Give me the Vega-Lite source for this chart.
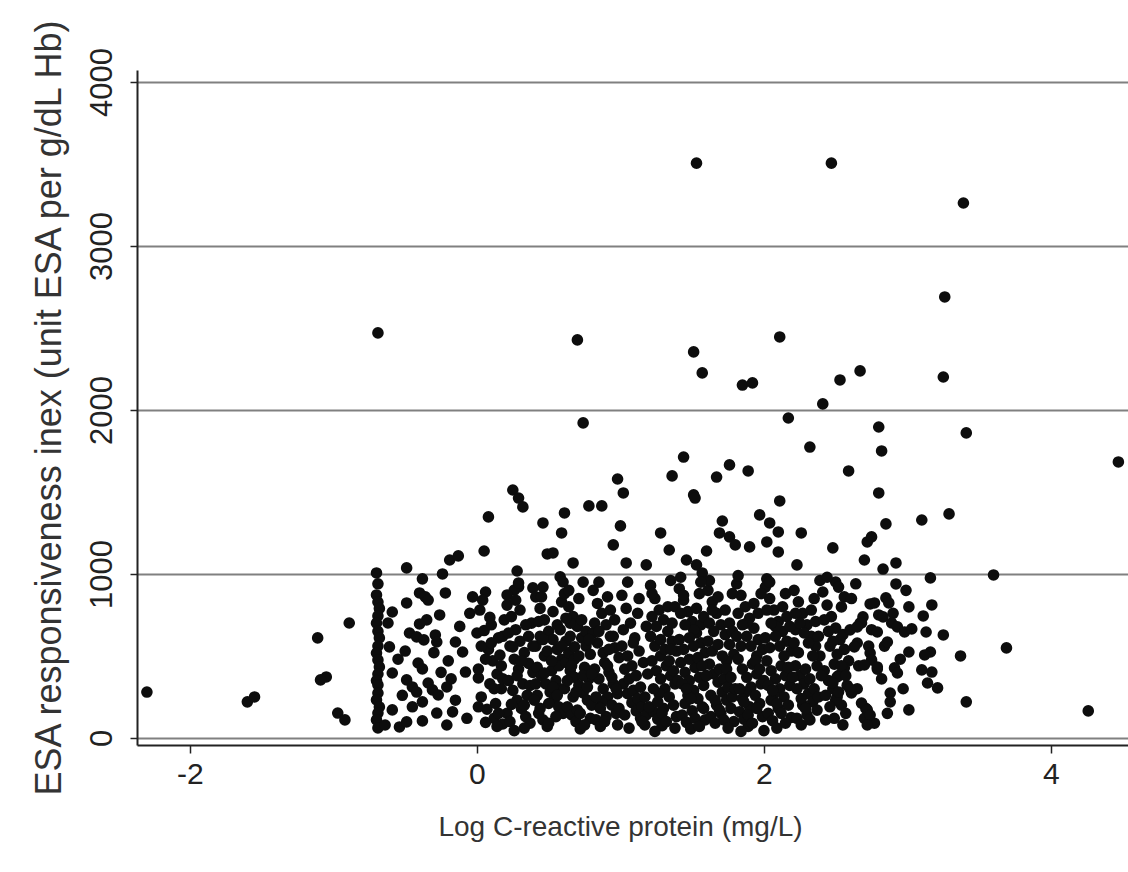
{
  "$schema": "https://vega.github.io/schema/vega-lite/v6.json",
  "autosize": {"type": "none"},
  "width": 991,
  "height": 675,
  "padding": {"left": 137, "top": 70, "right": 0, "bottom": 127},
  "background": "white",
  "config": {"view": {"stroke": null}},
  "data": {"values": [
    {"logCRP":1.53,"ERI":3505},{"logCRP":2.47,"ERI":3505},{"logCRP":3.39,"ERI":3262},{"logCRP":3.26,"ERI":2689},{"logCRP":-0.69,"ERI":2470},{"logCRP":0.70,"ERI":2427},{"logCRP":2.11,"ERI":2445},{"logCRP":1.51,"ERI":2354},{"logCRP":1.57,"ERI":2226},{"logCRP":2.67,"ERI":2238},{"logCRP":2.53,"ERI":2183},{"logCRP":3.25,"ERI":2201},{"logCRP":1.85,"ERI":2152},{"logCRP":1.92,"ERI":2165},{"logCRP":2.41,"ERI":2037},{"logCRP":2.17,"ERI":1951},{"logCRP":0.74,"ERI":1921},{"logCRP":2.80,"ERI":1896},{"logCRP":3.41,"ERI":1860},{"logCRP":2.32,"ERI":1774},{"logCRP":2.82,"ERI":1750},{"logCRP":4.47,"ERI":1683},{"logCRP":1.44,"ERI":1713},{"logCRP":1.76,"ERI":1665},{"logCRP":1.89,"ERI":1628},{"logCRP":2.59,"ERI":1628},{"logCRP":1.36,"ERI":1598},{"logCRP":1.67,"ERI":1591},{"logCRP":0.98,"ERI":1579},{"logCRP":1.02,"ERI":1494},{"logCRP":1.51,"ERI":1482},{"logCRP":1.52,"ERI":1463},{"logCRP":2.11,"ERI":1445},{"logCRP":2.80,"ERI":1494},{"logCRP":0.78,"ERI":1415},{"logCRP":0.87,"ERI":1415},{"logCRP":0.25,"ERI":1512},{"logCRP":0.29,"ERI":1463},{"logCRP":0.32,"ERI":1409},{"logCRP":0.61,"ERI":1372},{"logCRP":0.08,"ERI":1348},{"logCRP":1.97,"ERI":1360},{"logCRP":2.04,"ERI":1311},{"logCRP":1.71,"ERI":1323},{"logCRP":3.29,"ERI":1366},{"logCRP":3.10,"ERI":1329},{"logCRP":2.85,"ERI":1305},{"logCRP":0.46,"ERI":1311},{"logCRP":1.00,"ERI":1293},{"logCRP":2.10,"ERI":1256},{"logCRP":0.59,"ERI":1250},{"logCRP":1.28,"ERI":1250},{"logCRP":1.69,"ERI":1250},{"logCRP":1.76,"ERI":1226},{"logCRP":1.80,"ERI":1177},{"logCRP":2.02,"ERI":1195},{"logCRP":1.90,"ERI":1165},{"logCRP":0.95,"ERI":1177},{"logCRP":1.34,"ERI":1146},{"logCRP":1.60,"ERI":1140},{"logCRP":2.10,"ERI":1134},{"logCRP":0.05,"ERI":1140},{"logCRP":0.49,"ERI":1122},{"logCRP":0.53,"ERI":1128},{"logCRP":-0.19,"ERI":1085},{"logCRP":-0.13,"ERI":1110},{"logCRP":0.67,"ERI":1067},{"logCRP":1.04,"ERI":1067},{"logCRP":1.18,"ERI":1055},{"logCRP":1.46,"ERI":1085},{"logCRP":1.53,"ERI":1055},{"logCRP":1.57,"ERI":1006},{"logCRP":2.23,"ERI":1055},{"logCRP":2.26,"ERI":1250},{"logCRP":2.48,"ERI":1159},{"logCRP":2.72,"ERI":1195},{"logCRP":2.75,"ERI":1226},{"logCRP":2.70,"ERI":1085},{"logCRP":2.92,"ERI":1067},{"logCRP":2.83,"ERI":1030},{"logCRP":3.60,"ERI":994},{"logCRP":3.16,"ERI":976},{"logCRP":2.50,"ERI":951},{"logCRP":2.92,"ERI":939},{"logCRP":-0.70,"ERI":1006},{"logCRP":-0.49,"ERI":1037},{"logCRP":-0.24,"ERI":1000},{"logCRP":-0.38,"ERI":970},{"logCRP":0.28,"ERI":1018},{"logCRP":0.58,"ERI":982},{"logCRP":0.60,"ERI":951},{"logCRP":0.29,"ERI":921},{"logCRP":0.26,"ERI":902},
    {"logCRP":3.69,"ERI":549},{"logCRP":3.37,"ERI":500},{"logCRP":3.41,"ERI":220},{"logCRP":3.01,"ERI":171},{"logCRP":4.26,"ERI":165},{"logCRP":3.25,"ERI":628},{"logCRP":3.13,"ERI":646},{"logCRP":3.17,"ERI":811},{"logCRP":3.11,"ERI":744},{"logCRP":3.01,"ERI":799},{"logCRP":3.16,"ERI":524},{"logCRP":3.12,"ERI":506},{"logCRP":3.10,"ERI":415},{"logCRP":3.17,"ERI":402},{"logCRP":3.14,"ERI":335},{"logCRP":3.21,"ERI":305},{"logCRP":3.01,"ERI":524},
    {"logCRP":-2.30,"ERI":280},{"logCRP":-1.60,"ERI":220},{"logCRP":-1.55,"ERI":250},{"logCRP":-1.11,"ERI":610},{"logCRP":-0.89,"ERI":701},{"logCRP":-1.05,"ERI":372},{"logCRP":-1.09,"ERI":354},{"logCRP":-0.97,"ERI":152},{"logCRP":-0.92,"ERI":110},
    {"logCRP":-0.69,"ERI":940},{"logCRP":-0.70,"ERI":872},{"logCRP":-0.69,"ERI":829},{"logCRP":-0.68,"ERI":790},{"logCRP":-0.69,"ERI":744},{"logCRP":-0.70,"ERI":700},{"logCRP":-0.69,"ERI":650},{"logCRP":-0.68,"ERI":610},{"logCRP":-0.69,"ERI":560},{"logCRP":-0.70,"ERI":518},{"logCRP":-0.69,"ERI":476},{"logCRP":-0.68,"ERI":433},{"logCRP":-0.69,"ERI":390},{"logCRP":-0.70,"ERI":350},{"logCRP":-0.69,"ERI":323},{"logCRP":-0.69,"ERI":274},{"logCRP":-0.70,"ERI":232},{"logCRP":-0.68,"ERI":189},{"logCRP":-0.69,"ERI":152},{"logCRP":-0.70,"ERI":110},{"logCRP":-0.69,"ERI":61},
    {"logCRP":-0.59,"ERI":768},{"logCRP":-0.62,"ERI":701},{"logCRP":-0.26,"ERI":750},{"logCRP":-0.35,"ERI":720},{"logCRP":-0.40,"ERI":695},{"logCRP":-0.47,"ERI":640},{"logCRP":-0.42,"ERI":616},{"logCRP":-0.37,"ERI":598},{"logCRP":-0.29,"ERI":628},{"logCRP":-0.28,"ERI":585},{"logCRP":-0.15,"ERI":585},{"logCRP":-0.10,"ERI":524},{"logCRP":0.00,"ERI":640},{"logCRP":-0.61,"ERI":555},{"logCRP":-0.41,"ERI":457},{"logCRP":-0.38,"ERI":421},{"logCRP":-0.59,"ERI":396},{"logCRP":-0.49,"ERI":354},{"logCRP":-0.45,"ERI":311},{"logCRP":-0.42,"ERI":280},{"logCRP":-0.34,"ERI":335},{"logCRP":-0.31,"ERI":293},{"logCRP":-0.27,"ERI":262},{"logCRP":-0.21,"ERI":311},{"logCRP":-0.08,"ERI":402},{"logCRP":0.01,"ERI":366},{"logCRP":-0.38,"ERI":220},{"logCRP":-0.59,"ERI":171},{"logCRP":-0.28,"ERI":152},{"logCRP":-0.21,"ERI":79},{"logCRP":-0.64,"ERI":79},{"logCRP":-0.54,"ERI":67},{"logCRP":-0.49,"ERI":98},{"logCRP":-0.38,"ERI":104},{"logCRP":-0.17,"ERI":159},{"logCRP":-0.40,"ERI":884},{"logCRP":-0.36,"ERI":860},{"logCRP":-0.34,"ERI":841},{"logCRP":-0.22,"ERI":884},{"logCRP":-0.49,"ERI":823},{"logCRP":0.06,"ERI":890},{"logCRP":-0.03,"ERI":860},{"logCRP":0.21,"ERI":872},{"logCRP":0.39,"ERI":915},{"logCRP":0.29,"ERI":945},
    {"logCRP":-0.55,"ERI":480},{"logCRP":-0.50,"ERI":530},{"logCRP":-0.20,"ERI":470},{"logCRP":-0.12,"ERI":680},{"logCRP":-0.05,"ERI":760},{"logCRP":-0.25,"ERI":400},{"logCRP":-0.15,"ERI":230},{"logCRP":-0.07,"ERI":120},{"logCRP":-0.45,"ERI":190},{"logCRP":-0.30,"ERI":520},{"logCRP":-0.52,"ERI":260},{"logCRP":-0.18,"ERI":360},
    {"logCRP":0.02,"ERI":780},{"logCRP":0.05,"ERI":655},{"logCRP":0.08,"ERI":540},{"logCRP":0.11,"ERI":470},{"logCRP":0.14,"ERI":390},{"logCRP":0.17,"ERI":300},{"logCRP":0.03,"ERI":250},{"logCRP":0.07,"ERI":175},{"logCRP":0.12,"ERI":120},{"logCRP":0.18,"ERI":85},{"logCRP":0.01,"ERI":420},{"logCRP":0.09,"ERI":330},{"logCRP":0.15,"ERI":610},{"logCRP":0.19,"ERI":720},{"logCRP":0.04,"ERI":840},{"logCRP":0.13,"ERI":210},{"logCRP":0.16,"ERI":505},{"logCRP":0.06,"ERI":95},{"logCRP":0.10,"ERI":690},{"logCRP":0.18,"ERI":360},
    {"logCRP":0.21,"ERI":810},{"logCRP":0.24,"ERI":740},{"logCRP":0.27,"ERI":660},{"logCRP":0.30,"ERI":590},{"logCRP":0.33,"ERI":520},{"logCRP":0.36,"ERI":455},{"logCRP":0.39,"ERI":400},{"logCRP":0.22,"ERI":350},{"logCRP":0.25,"ERI":290},{"logCRP":0.28,"ERI":230},{"logCRP":0.31,"ERI":180},{"logCRP":0.34,"ERI":130},{"logCRP":0.37,"ERI":90},{"logCRP":0.23,"ERI":560},{"logCRP":0.26,"ERI":480},{"logCRP":0.29,"ERI":420},{"logCRP":0.32,"ERI":330},{"logCRP":0.35,"ERI":260},{"logCRP":0.38,"ERI":700},{"logCRP":0.21,"ERI":150},{"logCRP":0.30,"ERI":780},{"logCRP":0.36,"ERI":620},{"logCRP":0.24,"ERI":205},{"logCRP":0.33,"ERI":60},
    {"logCRP":0.41,"ERI":860},{"logCRP":0.44,"ERI":790},{"logCRP":0.47,"ERI":720},{"logCRP":0.50,"ERI":650},{"logCRP":0.53,"ERI":600},{"logCRP":0.56,"ERI":540},{"logCRP":0.59,"ERI":480},{"logCRP":0.42,"ERI":430},{"logCRP":0.45,"ERI":380},{"logCRP":0.48,"ERI":330},{"logCRP":0.51,"ERI":280},{"logCRP":0.54,"ERI":240},{"logCRP":0.57,"ERI":190},{"logCRP":0.43,"ERI":150},{"logCRP":0.46,"ERI":110},{"logCRP":0.49,"ERI":70},{"logCRP":0.52,"ERI":410},{"logCRP":0.55,"ERI":350},{"logCRP":0.58,"ERI":300},{"logCRP":0.41,"ERI":560},{"logCRP":0.44,"ERI":620},{"logCRP":0.47,"ERI":500},{"logCRP":0.50,"ERI":210},{"logCRP":0.53,"ERI":770},{"logCRP":0.56,"ERI":690},{"logCRP":0.59,"ERI":830},{"logCRP":0.42,"ERI":260},{"logCRP":0.57,"ERI":440},{"logCRP":0.60,"ERI":150},{"logCRP":0.46,"ERI":920},
    {"logCRP":0.61,"ERI":880},{"logCRP":0.64,"ERI":800},{"logCRP":0.67,"ERI":740},{"logCRP":0.70,"ERI":680},{"logCRP":0.73,"ERI":610},{"logCRP":0.76,"ERI":560},{"logCRP":0.79,"ERI":510},{"logCRP":0.62,"ERI":460},{"logCRP":0.65,"ERI":410},{"logCRP":0.68,"ERI":370},{"logCRP":0.71,"ERI":320},{"logCRP":0.74,"ERI":275},{"logCRP":0.77,"ERI":230},{"logCRP":0.63,"ERI":190},{"logCRP":0.66,"ERI":140},{"logCRP":0.69,"ERI":100},{"logCRP":0.72,"ERI":55},{"logCRP":0.75,"ERI":430},{"logCRP":0.78,"ERI":360},{"logCRP":0.61,"ERI":300},{"logCRP":0.64,"ERI":520},{"logCRP":0.67,"ERI":250},{"logCRP":0.70,"ERI":170},{"logCRP":0.73,"ERI":720},{"logCRP":0.76,"ERI":650},{"logCRP":0.79,"ERI":120},{"logCRP":0.62,"ERI":590},{"logCRP":0.65,"ERI":700},{"logCRP":0.68,"ERI":480},{"logCRP":0.71,"ERI":850},{"logCRP":0.74,"ERI":950},
    {"logCRP":0.81,"ERI":900},{"logCRP":0.84,"ERI":820},{"logCRP":0.87,"ERI":760},{"logCRP":0.90,"ERI":690},{"logCRP":0.93,"ERI":620},{"logCRP":0.96,"ERI":550},{"logCRP":0.99,"ERI":490},{"logCRP":0.82,"ERI":420},{"logCRP":0.85,"ERI":360},{"logCRP":0.88,"ERI":300},{"logCRP":0.91,"ERI":250},{"logCRP":0.94,"ERI":200},{"logCRP":0.97,"ERI":150},{"logCRP":0.83,"ERI":110},{"logCRP":0.86,"ERI":70},{"logCRP":0.89,"ERI":460},{"logCRP":0.92,"ERI":400},{"logCRP":0.95,"ERI":330},{"logCRP":0.98,"ERI":270},{"logCRP":0.81,"ERI":640},{"logCRP":0.84,"ERI":580},{"logCRP":0.87,"ERI":220},{"logCRP":0.90,"ERI":130},{"logCRP":0.93,"ERI":780},{"logCRP":0.96,"ERI":720},{"logCRP":0.99,"ERI":180},{"logCRP":0.85,"ERI":950},{"logCRP":0.91,"ERI":860},
    {"logCRP":1.01,"ERI":870},{"logCRP":1.04,"ERI":790},{"logCRP":1.07,"ERI":700},{"logCRP":1.10,"ERI":610},{"logCRP":1.13,"ERI":530},{"logCRP":1.16,"ERI":460},{"logCRP":1.19,"ERI":390},{"logCRP":1.02,"ERI":330},{"logCRP":1.05,"ERI":270},{"logCRP":1.08,"ERI":215},{"logCRP":1.11,"ERI":165},{"logCRP":1.14,"ERI":120},{"logCRP":1.17,"ERI":80},{"logCRP":1.03,"ERI":420},{"logCRP":1.06,"ERI":360},{"logCRP":1.09,"ERI":290},{"logCRP":1.12,"ERI":240},{"logCRP":1.15,"ERI":190},{"logCRP":1.18,"ERI":140},{"logCRP":1.01,"ERI":560},{"logCRP":1.12,"ERI":760},{"logCRP":1.18,"ERI":680},{"logCRP":1.05,"ERI":950},{"logCRP":1.15,"ERI":100},
    {"logCRP":1.21,"ERI":930},{"logCRP":1.24,"ERI":850},{"logCRP":1.27,"ERI":780},{"logCRP":1.30,"ERI":720},{"logCRP":1.33,"ERI":650},{"logCRP":1.36,"ERI":590},{"logCRP":1.39,"ERI":530},{"logCRP":1.22,"ERI":470},{"logCRP":1.25,"ERI":410},{"logCRP":1.28,"ERI":360},{"logCRP":1.31,"ERI":300},{"logCRP":1.34,"ERI":250},{"logCRP":1.37,"ERI":200},{"logCRP":1.23,"ERI":160},{"logCRP":1.26,"ERI":115},{"logCRP":1.29,"ERI":75},{"logCRP":1.32,"ERI":440},{"logCRP":1.35,"ERI":380},{"logCRP":1.38,"ERI":330},{"logCRP":1.21,"ERI":620},{"logCRP":1.24,"ERI":560},{"logCRP":1.27,"ERI":270},{"logCRP":1.30,"ERI":180},{"logCRP":1.33,"ERI":800},{"logCRP":1.36,"ERI":700},{"logCRP":1.39,"ERI":130},{"logCRP":1.22,"ERI":880},{"logCRP":1.35,"ERI":960},{"logCRP":1.28,"ERI":500},{"logCRP":1.38,"ERI":60},
    {"logCRP":1.41,"ERI":910},{"logCRP":1.44,"ERI":840},{"logCRP":1.47,"ERI":770},{"logCRP":1.50,"ERI":710},{"logCRP":1.53,"ERI":640},{"logCRP":1.56,"ERI":580},{"logCRP":1.59,"ERI":520},{"logCRP":1.42,"ERI":460},{"logCRP":1.45,"ERI":400},{"logCRP":1.48,"ERI":350},{"logCRP":1.51,"ERI":290},{"logCRP":1.54,"ERI":240},{"logCRP":1.57,"ERI":190},{"logCRP":1.43,"ERI":140},{"logCRP":1.46,"ERI":95},{"logCRP":1.49,"ERI":55},{"logCRP":1.52,"ERI":430},{"logCRP":1.55,"ERI":370},{"logCRP":1.58,"ERI":320},{"logCRP":1.41,"ERI":600},{"logCRP":1.44,"ERI":540},{"logCRP":1.47,"ERI":260},{"logCRP":1.50,"ERI":165},{"logCRP":1.53,"ERI":790},{"logCRP":1.56,"ERI":690},{"logCRP":1.59,"ERI":110},{"logCRP":1.42,"ERI":980},{"logCRP":1.55,"ERI":880},{"logCRP":1.48,"ERI":480},{"logCRP":1.58,"ERI":740},{"logCRP":1.45,"ERI":210},{"logCRP":1.51,"ERI":660},
    {"logCRP":1.61,"ERI":900},{"logCRP":1.64,"ERI":830},{"logCRP":1.67,"ERI":760},{"logCRP":1.70,"ERI":690},{"logCRP":1.73,"ERI":630},{"logCRP":1.76,"ERI":570},{"logCRP":1.79,"ERI":510},{"logCRP":1.62,"ERI":450},{"logCRP":1.65,"ERI":390},{"logCRP":1.68,"ERI":340},{"logCRP":1.71,"ERI":280},{"logCRP":1.74,"ERI":230},{"logCRP":1.77,"ERI":180},{"logCRP":1.63,"ERI":130},{"logCRP":1.66,"ERI":90},{"logCRP":1.69,"ERI":420},{"logCRP":1.72,"ERI":360},{"logCRP":1.75,"ERI":310},{"logCRP":1.78,"ERI":250},{"logCRP":1.61,"ERI":590},{"logCRP":1.64,"ERI":530},{"logCRP":1.67,"ERI":200},{"logCRP":1.70,"ERI":150},{"logCRP":1.73,"ERI":780},{"logCRP":1.76,"ERI":700},{"logCRP":1.79,"ERI":100},{"logCRP":1.62,"ERI":960},{"logCRP":1.68,"ERI":860},{"logCRP":1.74,"ERI":470},{"logCRP":1.78,"ERI":650},
    {"logCRP":1.81,"ERI":940},{"logCRP":1.84,"ERI":870},{"logCRP":1.87,"ERI":800},{"logCRP":1.90,"ERI":730},{"logCRP":1.93,"ERI":670},{"logCRP":1.96,"ERI":600},{"logCRP":1.99,"ERI":540},{"logCRP":1.82,"ERI":480},{"logCRP":1.85,"ERI":420},{"logCRP":1.88,"ERI":370},{"logCRP":1.91,"ERI":310},{"logCRP":1.94,"ERI":260},{"logCRP":1.97,"ERI":210},{"logCRP":1.83,"ERI":160},{"logCRP":1.86,"ERI":115},{"logCRP":1.89,"ERI":70},{"logCRP":1.92,"ERI":450},{"logCRP":1.95,"ERI":390},{"logCRP":1.98,"ERI":330},{"logCRP":1.81,"ERI":620},{"logCRP":1.84,"ERI":560},{"logCRP":1.87,"ERI":280},{"logCRP":1.90,"ERI":190},{"logCRP":1.93,"ERI":820},{"logCRP":1.96,"ERI":760},{"logCRP":1.99,"ERI":130},{"logCRP":1.82,"ERI":990},{"logCRP":1.88,"ERI":700},{"logCRP":1.95,"ERI":500},{"logCRP":1.85,"ERI":240},
    {"logCRP":2.01,"ERI":920},{"logCRP":2.04,"ERI":850},{"logCRP":2.07,"ERI":780},{"logCRP":2.10,"ERI":710},{"logCRP":2.13,"ERI":650},{"logCRP":2.16,"ERI":590},{"logCRP":2.19,"ERI":530},{"logCRP":2.02,"ERI":470},{"logCRP":2.05,"ERI":410},{"logCRP":2.08,"ERI":360},{"logCRP":2.11,"ERI":300},{"logCRP":2.14,"ERI":250},{"logCRP":2.17,"ERI":200},{"logCRP":2.03,"ERI":150},{"logCRP":2.06,"ERI":105},{"logCRP":2.09,"ERI":60},{"logCRP":2.12,"ERI":440},{"logCRP":2.15,"ERI":380},{"logCRP":2.18,"ERI":320},{"logCRP":2.01,"ERI":610},{"logCRP":2.04,"ERI":550},{"logCRP":2.07,"ERI":270},{"logCRP":2.10,"ERI":180},{"logCRP":2.13,"ERI":800},{"logCRP":2.16,"ERI":740},{"logCRP":2.19,"ERI":125},{"logCRP":2.02,"ERI":970},{"logCRP":2.08,"ERI":680},{"logCRP":2.15,"ERI":880},{"logCRP":2.05,"ERI":230},{"logCRP":2.00,"ERI":45},
    {"logCRP":2.21,"ERI":900},{"logCRP":2.24,"ERI":830},{"logCRP":2.27,"ERI":760},{"logCRP":2.30,"ERI":690},{"logCRP":2.33,"ERI":620},{"logCRP":2.36,"ERI":560},{"logCRP":2.39,"ERI":500},{"logCRP":2.22,"ERI":440},{"logCRP":2.25,"ERI":380},{"logCRP":2.28,"ERI":330},{"logCRP":2.31,"ERI":270},{"logCRP":2.34,"ERI":220},{"logCRP":2.37,"ERI":170},{"logCRP":2.23,"ERI":120},{"logCRP":2.26,"ERI":80},{"logCRP":2.29,"ERI":420},{"logCRP":2.32,"ERI":360},{"logCRP":2.35,"ERI":300},{"logCRP":2.38,"ERI":250},{"logCRP":2.21,"ERI":580},{"logCRP":2.24,"ERI":520},{"logCRP":2.27,"ERI":200},{"logCRP":2.30,"ERI":140},{"logCRP":2.33,"ERI":780},{"logCRP":2.36,"ERI":710},{"logCRP":2.39,"ERI":960},{"logCRP":2.22,"ERI":660},
    {"logCRP":2.41,"ERI":890},{"logCRP":2.44,"ERI":810},{"logCRP":2.47,"ERI":740},{"logCRP":2.50,"ERI":670},{"logCRP":2.53,"ERI":600},{"logCRP":2.56,"ERI":540},{"logCRP":2.59,"ERI":470},{"logCRP":2.42,"ERI":410},{"logCRP":2.45,"ERI":350},{"logCRP":2.48,"ERI":300},{"logCRP":2.51,"ERI":250},{"logCRP":2.54,"ERI":200},{"logCRP":2.57,"ERI":150},{"logCRP":2.43,"ERI":110},{"logCRP":2.46,"ERI":560},{"logCRP":2.49,"ERI":450},{"logCRP":2.52,"ERI":380},{"logCRP":2.55,"ERI":630},{"logCRP":2.58,"ERI":320},{"logCRP":2.44,"ERI":980},{"logCRP":2.50,"ERI":230},{"logCRP":2.56,"ERI":860},
    {"logCRP":2.61,"ERI":850},{"logCRP":2.67,"ERI":700},{"logCRP":2.73,"ERI":560},{"logCRP":2.79,"ERI":420},{"logCRP":2.65,"ERI":300},{"logCRP":2.71,"ERI":180},{"logCRP":2.77,"ERI":90},{"logCRP":2.66,"ERI":440},{"logCRP":2.75,"ERI":660},{"logCRP":2.64,"ERI":940},{"logCRP":2.70,"ERI":120},{"logCRP":2.80,"ERI":750},
    {"logCRP":2.84,"ERI":560},{"logCRP":2.95,"ERI":480},{"logCRP":2.90,"ERI":760},{"logCRP":2.97,"ERI":300},{"logCRP":2.86,"ERI":150},{"logCRP":2.99,"ERI":900},
    {"logCRP":2.85,"ERI":854},{"logCRP":2.87,"ERI":823},{"logCRP":2.74,"ERI":817},{"logCRP":2.77,"ERI":823},{"logCRP":2.54,"ERI":799},{"logCRP":2.69,"ERI":738},{"logCRP":2.68,"ERI":701},{"logCRP":2.83,"ERI":738},{"logCRP":2.89,"ERI":701},{"logCRP":2.93,"ERI":677},{"logCRP":2.98,"ERI":646},{"logCRP":3.03,"ERI":665},{"logCRP":2.60,"ERI":659},{"logCRP":2.65,"ERI":677},{"logCRP":2.79,"ERI":646},{"logCRP":2.86,"ERI":585},{"logCRP":2.65,"ERI":579},{"logCRP":2.63,"ERI":555},{"logCRP":2.74,"ERI":518},{"logCRP":2.75,"ERI":476},{"logCRP":2.70,"ERI":445},{"logCRP":2.79,"ERI":433},{"logCRP":2.91,"ERI":427},{"logCRP":2.93,"ERI":396},{"logCRP":2.56,"ERI":427},{"logCRP":2.82,"ERI":360},{"logCRP":2.51,"ERI":372},{"logCRP":2.48,"ERI":335},{"logCRP":2.52,"ERI":280},{"logCRP":2.61,"ERI":274},{"logCRP":2.88,"ERI":274},{"logCRP":2.88,"ERI":220},{"logCRP":2.68,"ERI":213},{"logCRP":2.72,"ERI":171},{"logCRP":2.74,"ERI":140},{"logCRP":2.72,"ERI":79},
    {"logCRP":0.03,"ERI":560},{"logCRP":0.06,"ERI":480},{"logCRP":0.09,"ERI":735},{"logCRP":0.12,"ERI":300},{"logCRP":0.15,"ERI":150},{"logCRP":0.18,"ERI":620},{"logCRP":0.01,"ERI":190},{"logCRP":0.10,"ERI":580},{"logCRP":0.14,"ERI":70},{"logCRP":0.17,"ERI":440},
    {"logCRP":0.22,"ERI":640},{"logCRP":0.25,"ERI":555},{"logCRP":0.28,"ERI":380},{"logCRP":0.31,"ERI":470},{"logCRP":0.34,"ERI":690},{"logCRP":0.37,"ERI":320},{"logCRP":0.40,"ERI":230},{"logCRP":0.23,"ERI":100},{"logCRP":0.27,"ERI":840},{"logCRP":0.33,"ERI":200},{"logCRP":0.39,"ERI":560},{"logCRP":0.26,"ERI":45},
    {"logCRP":0.43,"ERI":710},{"logCRP":0.46,"ERI":600},{"logCRP":0.49,"ERI":530},{"logCRP":0.52,"ERI":470},{"logCRP":0.55,"ERI":130},{"logCRP":0.58,"ERI":660},{"logCRP":0.41,"ERI":330},{"logCRP":0.44,"ERI":180},{"logCRP":0.47,"ERI":395},{"logCRP":0.50,"ERI":90},{"logCRP":0.53,"ERI":310},{"logCRP":0.56,"ERI":260},{"logCRP":0.59,"ERI":560},{"logCRP":0.45,"ERI":860},
    {"logCRP":0.62,"ERI":730},{"logCRP":0.65,"ERI":620},{"logCRP":0.68,"ERI":555},{"logCRP":0.71,"ERI":500},{"logCRP":0.74,"ERI":380},{"logCRP":0.77,"ERI":310},{"logCRP":0.80,"ERI":200},{"logCRP":0.63,"ERI":350},{"logCRP":0.66,"ERI":440},{"logCRP":0.69,"ERI":280},{"logCRP":0.72,"ERI":150},{"logCRP":0.75,"ERI":80},{"logCRP":0.78,"ERI":600},{"logCRP":0.64,"ERI":900},
    {"logCRP":0.82,"ERI":700},{"logCRP":0.85,"ERI":650},{"logCRP":0.88,"ERI":520},{"logCRP":0.91,"ERI":440},{"logCRP":0.94,"ERI":370},{"logCRP":0.97,"ERI":300},{"logCRP":0.83,"ERI":250},{"logCRP":0.86,"ERI":180},{"logCRP":0.89,"ERI":100},{"logCRP":0.92,"ERI":540},{"logCRP":0.95,"ERI":620},{"logCRP":0.98,"ERI":80},{"logCRP":0.80,"ERI":390},
    {"logCRP":1.02,"ERI":660},{"logCRP":1.05,"ERI":500},{"logCRP":1.08,"ERI":440},{"logCRP":1.11,"ERI":380},{"logCRP":1.14,"ERI":310},{"logCRP":1.17,"ERI":250},{"logCRP":1.20,"ERI":190},{"logCRP":1.03,"ERI":140},{"logCRP":1.06,"ERI":60},{"logCRP":1.09,"ERI":580},{"logCRP":1.13,"ERI":850},
    {"logCRP":1.22,"ERI":740},{"logCRP":1.25,"ERI":680},{"logCRP":1.28,"ERI":600},{"logCRP":1.31,"ERI":540},{"logCRP":1.34,"ERI":470},{"logCRP":1.37,"ERI":410},{"logCRP":1.40,"ERI":350},{"logCRP":1.23,"ERI":300},{"logCRP":1.26,"ERI":220},{"logCRP":1.29,"ERI":150},{"logCRP":1.32,"ERI":100},{"logCRP":1.35,"ERI":540},{"logCRP":1.38,"ERI":800},{"logCRP":1.24,"ERI":40},
    {"logCRP":1.42,"ERI":760},{"logCRP":1.45,"ERI":690},{"logCRP":1.48,"ERI":610},{"logCRP":1.51,"ERI":560},{"logCRP":1.54,"ERI":490},{"logCRP":1.57,"ERI":440},{"logCRP":1.60,"ERI":380},{"logCRP":1.43,"ERI":330},{"logCRP":1.46,"ERI":300},{"logCRP":1.49,"ERI":240},{"logCRP":1.52,"ERI":120},{"logCRP":1.55,"ERI":70},{"logCRP":1.58,"ERI":180},{"logCRP":1.44,"ERI":870},{"logCRP":1.56,"ERI":950},
    {"logCRP":1.62,"ERI":700},{"logCRP":1.65,"ERI":650},{"logCRP":1.68,"ERI":570},{"logCRP":1.71,"ERI":500},{"logCRP":1.74,"ERI":420},{"logCRP":1.77,"ERI":370},{"logCRP":1.80,"ERI":300},{"logCRP":1.63,"ERI":260},{"logCRP":1.66,"ERI":230},{"logCRP":1.69,"ERI":170},{"logCRP":1.72,"ERI":110},{"logCRP":1.75,"ERI":60},{"logCRP":1.78,"ERI":880},{"logCRP":1.64,"ERI":780},
    {"logCRP":1.82,"ERI":760},{"logCRP":1.85,"ERI":690},{"logCRP":1.88,"ERI":620},{"logCRP":1.91,"ERI":560},{"logCRP":1.94,"ERI":470},{"logCRP":1.97,"ERI":420},{"logCRP":2.00,"ERI":350},{"logCRP":1.83,"ERI":300},{"logCRP":1.86,"ERI":220},{"logCRP":1.89,"ERI":140},{"logCRP":1.92,"ERI":90},{"logCRP":1.95,"ERI":180},{"logCRP":1.98,"ERI":880},{"logCRP":1.84,"ERI":40},
    {"logCRP":2.02,"ERI":780},{"logCRP":2.05,"ERI":700},{"logCRP":2.08,"ERI":620},{"logCRP":2.11,"ERI":560},{"logCRP":2.14,"ERI":500},{"logCRP":2.17,"ERI":430},{"logCRP":2.20,"ERI":370},{"logCRP":2.03,"ERI":320},{"logCRP":2.06,"ERI":290},{"logCRP":2.09,"ERI":210},{"logCRP":2.12,"ERI":150},{"logCRP":2.15,"ERI":90},{"logCRP":2.18,"ERI":680},{"logCRP":2.04,"ERI":950},
    {"logCRP":2.22,"ERI":760},{"logCRP":2.25,"ERI":700},{"logCRP":2.28,"ERI":640},{"logCRP":2.31,"ERI":580},{"logCRP":2.34,"ERI":500},{"logCRP":2.37,"ERI":440},{"logCRP":2.40,"ERI":380},{"logCRP":2.23,"ERI":300},{"logCRP":2.26,"ERI":240},{"logCRP":2.29,"ERI":180},{"logCRP":2.32,"ERI":110},{"logCRP":2.35,"ERI":850},{"logCRP":2.38,"ERI":620},
    {"logCRP":2.42,"ERI":720},{"logCRP":2.45,"ERI":650},{"logCRP":2.48,"ERI":590},{"logCRP":2.51,"ERI":510},{"logCRP":2.54,"ERI":440},{"logCRP":2.57,"ERI":380},{"logCRP":2.60,"ERI":300},{"logCRP":2.43,"ERI":260},{"logCRP":2.46,"ERI":190},{"logCRP":2.49,"ERI":120},{"logCRP":2.52,"ERI":920},{"logCRP":2.55,"ERI":80}
  ]},
  "mark": {"type": "point", "filled": true, "shape": "circle", "size": 135, "color": "#0d0d0d", "opacity": 1},
  "encoding": {
    "x": {
      "field": "logCRP", "type": "quantitative",
      "scale": {"domain": [-2.369, 4.537], "nice": false, "zero": false},
      "axis": {
        "title": "Log C-reactive protein (mg/L)",
        "values": [-2, 0, 2, 4],
        "labelExpr": "replace(datum.label, '\u2212', '-')",
        "grid": false,
        "domainColor": "#222222", "domainWidth": 2,
        "tickColor": "#222222", "tickSize": 8, "tickWidth": 1.5,
        "labelFont": "Liberation Sans", "labelFontSize": 30, "labelColor": "#222222", "labelPadding": 6,
        "titleFont": "Liberation Sans", "titleFontSize": 28, "titleFontWeight": "normal", "titleColor": "#333333", "titlePadding": 24,
        "titleX": 483
      }
    },
    "y": {
      "field": "ERI", "type": "quantitative",
      "scale": {"domain": [-43, 4073], "nice": false, "zero": false},
      "axis": {
        "title": "ESA responsiveness inex (unit ESA per g/dL Hb)",
        "values": [0, 1000, 2000, 3000, 4000],
        "format": "d",
        "grid": true, "gridColor": "#808080", "gridWidth": 2, "gridOpacity": 1,
        "domainColor": "#222222", "domainWidth": 2,
        "tickColor": "#222222", "tickSize": 7, "tickWidth": 1.5,
        "labelAngle": -90, "labelAlign": "center", "labelBaseline": "bottom",
        "labelFont": "Liberation Sans", "labelFontSize": 31, "labelColor": "#222222", "labelPadding": 12,
        "titleFont": "Liberation Sans", "titleFontSize": 36, "titleFontWeight": "normal", "titleColor": "#333333", "titlePadding": 18
      }
    }
  }
}
